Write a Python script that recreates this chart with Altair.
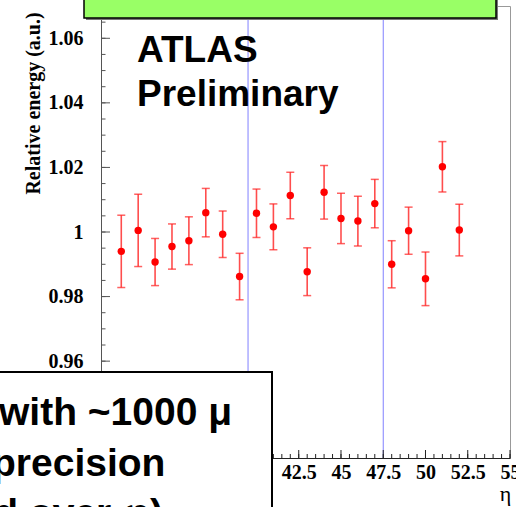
import altair as alt
import pandas as pd

# ---- data ----
eta = [32, 33, 34, 35, 36, 37, 38, 39, 40, 41, 42, 43, 44, 45, 46, 47, 48, 49, 50, 51, 52]
rel_energy = [0.9940, 1.0005, 0.9907, 0.9955, 0.9973, 1.0060, 0.9993, 0.9862, 1.0058, 1.0016,
              1.0113, 0.9877, 1.0123, 1.0042, 1.0034, 1.0088, 0.9900, 1.0004, 0.9855, 1.0202, 1.0006]
rel_err = [0.0112, 0.0112, 0.0073, 0.0070, 0.0074, 0.0075, 0.0072, 0.0072, 0.0075, 0.0071,
           0.0072, 0.0074, 0.0083, 0.0078, 0.0077, 0.0075, 0.0073, 0.0073, 0.0083, 0.0078, 0.0080]
boundaries = [39.5, 47.5]

x_major = [32.5, 35, 37.5, 40, 42.5, 45, 47.5, 50, 52.5, 55]
x_minor = [v / 2 for v in range(62, 111)]
y_major = [0.94, 0.96, 0.98, 1.0, 1.02, 1.04, 1.06]
y_minor = [round(0.935 + 0.005 * i, 3) for i in range(27)]

atlas_lines = ["ATLAS", "Preliminary"]
box_lines = ["with ~1000 μ", "precision", "(averaged over φ)"]
y_title = "Relative energy (a.u.)"
x_title = "η"

df = pd.DataFrame({"eta": eta, "e": rel_energy, "err": rel_err})
df["lo"] = df["e"] - df["err"]
df["hi"] = df["e"] + df["err"]

W, H = 409, 452
xs = alt.Scale(domain=[30.8, 55], nice=False, zero=False)
ys = alt.Scale(domain=[0.93, 1.07], nice=False, zero=False)

serif = "Liberation Serif"
sans = "Liberation Sans"

base = alt.Chart(df)

# invisible layer that carries the axes
axes_layer = base.mark_circle(opacity=0).encode(
    x=alt.X("eta:Q", scale=xs, axis=alt.Axis(
        values=x_major, format=".4~g", ticks=False, domain=True, domainColor="#222",
        domainWidth=1, labelFont=serif, labelFontWeight="bold", labelFontSize=20,
        labelColor="black", labelPadding=4, labelFlush=False, labelOverlap=False, grid=False,
        title=x_title, titleFont=serif, titleFontWeight="normal", titleFontSize=22,
        titleColor="black", titleX=404, titleY=42, titleAlign="center",
        titleBaseline="alphabetic", orient="bottom")),
    y=alt.Y("e:Q", scale=ys, axis=alt.Axis(
        values=y_major, format=".4~g", ticks=False, domain=True, domainColor="#555",
        domainWidth=1, labelFont=serif, labelFontWeight="bold", labelFontSize=20,
        labelColor="black", labelPadding=18, labelFlush=False, labelOverlap=False, grid=False,
        title=y_title, titleFont=serif, titleFontWeight="bold", titleFontSize=20,
        titleColor="black", titleAngle=270, titleX=-62, titleY=97, titleAlign="center",
        titleBaseline="alphabetic", orient="left")),
)

points = base.mark_circle(size=55, color="#ff0000", opacity=1).encode(
    x=alt.X("eta:Q", scale=xs, axis=None),
    y=alt.Y("e:Q", scale=ys, axis=None),
)

bars = base.mark_rule(color="#ff2020", strokeWidth=1.6, opacity=0.8).encode(
    x=alt.X("eta:Q", scale=xs, axis=None),
    y=alt.Y("lo:Q", scale=ys, axis=None),
    y2="hi:Q",
)
cap_lo = base.mark_tick(color="#ff2020", thickness=1.5, size=8, orient="horizontal").encode(
    x=alt.X("eta:Q", scale=xs, axis=None),
    y=alt.Y("lo:Q", scale=ys, axis=None),
)
cap_hi = base.mark_tick(color="#ff2020", thickness=1.5, size=8, orient="horizontal").encode(
    x=alt.X("eta:Q", scale=xs, axis=None),
    y=alt.Y("hi:Q", scale=ys, axis=None),
)

vlines = alt.Chart(pd.DataFrame({"b": boundaries})).mark_rule(
    color="#8080ff", strokeWidth=1).encode(x=alt.X("b:Q", scale=xs, axis=None))

ymaj = alt.Chart(pd.DataFrame({"v": y_major})).mark_rule(color="#555", strokeWidth=1).encode(
    y=alt.Y("v:Q", scale=ys, axis=None), x=alt.value(0), x2=alt.value(9))
ymin = alt.Chart(pd.DataFrame({"v": y_minor})).mark_rule(color="#555", strokeWidth=1).encode(
    y=alt.Y("v:Q", scale=ys, axis=None), x=alt.value(0), x2=alt.value(4.5))
xmaj = alt.Chart(pd.DataFrame({"v": x_major})).mark_rule(color="#222", strokeWidth=1).encode(
    x=alt.X("v:Q", scale=xs, axis=None), y=alt.value(H), y2=alt.value(H - 8))
xmin = alt.Chart(pd.DataFrame({"v": x_minor})).mark_rule(color="#222", strokeWidth=1).encode(
    x=alt.X("v:Q", scale=xs, axis=None), y=alt.value(H), y2=alt.value(H - 4))

one = alt.Chart(pd.DataFrame({"k": [0]}))

atlas1 = one.mark_text(align="left", baseline="alphabetic", font=sans, fontWeight="bold",
                       fontSize=37, color="black").encode(
    x=alt.value(36), y=alt.value(56), text=alt.value(atlas_lines[0]))
atlas2 = one.mark_text(align="left", baseline="alphabetic", font=sans, fontWeight="bold",
                       fontSize=37, color="black").encode(
    x=alt.value(36), y=alt.value(100), text=alt.value(atlas_lines[1]))

green_shadow = one.mark_rect(color="#777").encode(
    x=alt.value(-15), x2=alt.value(397), y=alt.value(-20), y2=alt.value(14))
green_box = one.mark_rect(fill="#99ff66", stroke="black", strokeWidth=1.5).encode(
    x=alt.value(-17), x2=alt.value(395), y=alt.value(-22), y2=alt.value(12))

text_box = one.mark_rect(fill="white", stroke="black", strokeWidth=2).encode(
    x=alt.value(-120), x2=alt.value(171), y=alt.value(366), y2=alt.value(540))
t1 = one.mark_text(align="left", baseline="alphabetic", font=sans, fontWeight="bold",
                   fontSize=39, color="black").encode(
    x=alt.value(-102), y=alt.value(419), text=alt.value(box_lines[0]))
t2 = one.mark_text(align="left", baseline="alphabetic", font=sans, fontWeight="bold",
                   fontSize=39, color="black").encode(
    x=alt.value(-109), y=alt.value(470), text=alt.value(box_lines[1]))
t3 = one.mark_text(align="right", baseline="alphabetic", font=sans, fontWeight="bold",
                   fontSize=39, color="black").encode(
    x=alt.value(62), y=alt.value(520), text=alt.value(box_lines[2]))

chart = alt.layer(
    axes_layer, vlines, ymaj, ymin, xmaj, xmin, bars, cap_lo, cap_hi, points,
    atlas1, atlas2, green_shadow, green_box, text_box, t1, t2, t3,
).resolve_axis(x="independent", y="independent").properties(
    width=W, height=H,
    autosize=alt.AutoSizeParams(type="none"),
    padding={"left": 101, "top": 6, "right": 6, "bottom": 49},
).configure_view(stroke="#999", strokeWidth=1)

chart.save("out.html", embed_options={"renderer": "svg", "actions": False})
